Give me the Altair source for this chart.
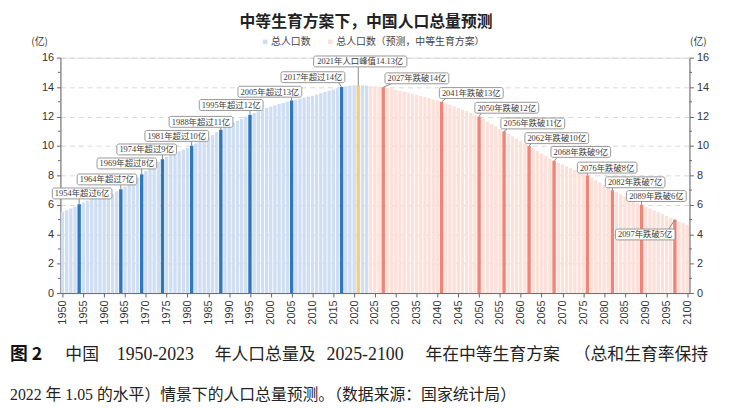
import altair as alt
import pandas as pd

# ---------------- data ----------------
hist_years = list(range(1950, 2024))
hist_values = [
    5.52, 5.63, 5.75, 5.88, 6.03, 6.15, 6.28, 6.47, 6.60, 6.72,
    6.62, 6.59, 6.73, 6.92, 7.05, 7.25, 7.45, 7.64, 7.85, 8.07,
    8.30, 8.52, 8.72, 8.92, 9.09, 9.24, 9.37, 9.50, 9.63, 9.75,
    9.87, 10.01, 10.17, 10.30, 10.44, 10.59, 10.75, 10.93, 11.10, 11.27,
    11.43, 11.58, 11.72, 11.85, 11.99, 12.11, 12.24, 12.36, 12.48, 12.58,
    12.67, 12.76, 12.85, 12.92, 13.00, 13.08, 13.14, 13.21, 13.28, 13.35,
    13.41, 13.49, 13.59, 13.67, 13.76, 13.83, 13.92, 14.00, 14.05, 14.10,
    14.12, 14.13, 14.12, 14.10,
]
proj_years = list(range(2024, 2101))
proj_values = [
    14.08, 14.06, 14.03, 13.99, 13.94, 13.88, 13.82, 13.76, 13.69, 13.62,
    13.55, 13.48, 13.41, 13.33, 13.25, 13.17, 13.08, 12.99, 12.89, 12.79,
    12.68, 12.57, 12.46, 12.35, 12.23, 12.11, 11.99, 11.82, 11.65, 11.49,
    11.33, 11.16, 10.99, 10.83, 10.66, 10.50, 10.33, 10.16, 9.99, 9.83,
    9.66, 9.49, 9.33, 9.16, 8.99, 8.87, 8.74, 8.62, 8.49, 8.37,
    8.24, 8.12, 7.99, 7.83, 7.66, 7.50, 7.33, 7.16, 6.99, 6.85,
    6.71, 6.56, 6.42, 6.28, 6.13, 5.99, 5.87, 5.74, 5.62, 5.49,
    5.37, 5.24, 5.12, 4.99, 4.87, 4.75, 4.64,
]
assert len(hist_years) == len(hist_values)
assert len(proj_years) == len(proj_values)

rise_years = [1954, 1964, 1969, 1974, 1981, 1988, 1995, 2005, 2017]
rise_levels = [6, 7, 8, 9, 10, 11, 12, 13, 14]
peak_year = 2021
peak_value = 14.13
fall_years = [2027, 2041, 2050, 2056, 2062, 2068, 2076, 2082, 2089, 2097]
fall_levels = [14, 13, 12, 11, 10, 9, 8, 7, 6, 5]

x_ticks = list(range(1950, 2101, 5))
y_ticks = list(range(0, 17, 2))
y_minor = list(range(1, 17, 2))

series_names = ["总人口数", "总人口数（预测，中等生育方案）"]
title_text = "中等生育方案下，中国人口总量预测"
unit_text = "(亿)"
caption_fig = "图 2"
caption_line1 = ["中国", "1950-2023", "年人口总量及", "2025-2100",
                 "年在中等生育方案", "（总和生育率保持"]
caption_line2 = "2022 年 1.05 的水平）情景下的人口总量预测。（数据来源：国家统计局）"

# ---------------- layout ----------------
W, H = 636, 238
PPY = W / 151.0
PPU = H / 16.0
SANS = "Noto Sans CJK SC"
LAB = "Liberation Serif, Noto Sans CJK SC"
COL_HIST, COL_PROJ = "#cfdef2", "#fbe1da"
COL_RISE, COL_PEAK, COL_FALL = "#2f78bd", "#f6cf7e", "#ee8577"

# callout offsets (px) of box centre from the bar top
offsets = {
    1954: (3, -11), 1964: (-14, -10), 1969: (-15, -11), 1974: (-16, -10),
    1981: (-15, -10), 1988: (-20, -8), 1995: (-19, -10), 2005: (-22, -9),
    2017: (-29, -10), 2021: (2, -24), 2027: (34, -9), 2041: (30, -9),
    2050: (28, -9), 2056: (29, -8), 2062: (28, -8), 2068: (27, -9),
    2076: (20, -8), 2082: (23, -8), 2089: (15, -9), 2097: (-30, 15),
}
# caption line-1 segment x positions (plot coords) and font sizes
cap1_x = [-51, 5, 57, 156, 269, 369, 519]
cap1_fs = [18, 17, 18, 17, 18, 17, 17]

all_years = hist_years + proj_years
all_values = hist_values + proj_values
val_of = dict(zip(all_years, all_values))

bars = pd.DataFrame({
    "year": all_years,
    "value": all_values,
    "series": [series_names[0]] * len(hist_years) + [series_names[1]] * len(proj_years),
})
bars["x0"] = bars["year"] - 0.4
bars["x1"] = bars["year"] + 0.4

hl_rows = []
for y in rise_years:
    hl_rows.append((y, val_of[y], "rise"))
hl_rows.append((peak_year, val_of[peak_year], "peak"))
for y in fall_years:
    hl_rows.append((y, val_of[y], "fall"))
hl = pd.DataFrame(hl_rows, columns=["year", "value", "kind"])
hl["x0"] = hl["year"] - 0.4
hl["x1"] = hl["year"] + 0.4

labels = []
for y, n in zip(rise_years, rise_levels):
    labels.append((y, f"{y}年超过{n}亿"))
labels.append((peak_year, f"{peak_year}年人口峰值{peak_value}亿"))
for y, n in zip(fall_years, fall_levels):
    labels.append((y, f"{y}年跌破{n}亿"))


def text_w(s, fs=8.5):
    return sum(fs * 0.5 if ord(c) < 128 else fs for c in s) + 5


ann = []
for y, lab in labels:
    v = val_of[y]
    dx, dy = offsets[y]
    cx = y + dx / PPY
    cy = v - dy / PPU
    w = text_w(lab)
    h = 11
    bx0, bx1 = cx - w / 2 / PPY, cx + w / 2 / PPY
    by0, by1 = cy - h / 2 / PPU, cy + h / 2 / PPU
    lx = min(max(y, bx0 + 1.5), bx1 - 1.5)
    ly = by0 if cy > v else by1
    ann.append(dict(year=y, value=v, label=lab, cx=cx, cy=cy,
                    bx0=bx0, bx1=bx1, by0=by0, by1=by1, lx=lx, ly=ly))
ann = pd.DataFrame(ann)

xs = alt.Scale(domain=[1949.5, 2100.5], nice=False, zero=False)
ys = alt.Scale(domain=[0, 16], nice=False, zero=True)

x_axis = alt.Axis(values=x_ticks, format="d", labelAngle=-90, labelFontSize=11,
                  labelColor="#333333", labelFont="Liberation Sans", tickColor="#666666",
                  tickSize=4, domainColor="#666666", grid=False, title=None,
                  labelPadding=3, labelOverlap=False, labelFlush=False)
y_left = alt.Axis(values=y_ticks, grid=True, gridDash=[5, 4], gridColor="#d9d9d9",
                  domainColor="#666666", tickColor="#666666", tickSize=4,
                  labelFontSize=11, labelColor="#333333", labelFont="Liberation Sans",
                  title=None, labelPadding=3)
y_right = alt.Axis(values=y_ticks, orient="right", grid=False,
                   domainColor="#666666", tickColor="#666666", tickSize=4,
                   labelFontSize=11, labelColor="#333333", labelFont="Liberation Sans",
                   title=None, labelPadding=3)

color_scale = alt.Scale(domain=series_names, range=[COL_HIST, COL_PROJ])

base_hist = alt.Chart(bars[bars["series"] == series_names[0]]).mark_rect().encode(
    x=alt.X("x0:Q", scale=xs, axis=x_axis),
    x2="x1:Q",
    y=alt.Y("value:Q", scale=ys, axis=y_left),
    y2=alt.datum(0),
    color=alt.Color("series:N", scale=color_scale, legend=None),
)
base_proj = alt.Chart(bars[bars["series"] == series_names[1]]).mark_rect().encode(
    x=alt.X("x0:Q", scale=xs, axis=x_axis),
    x2="x1:Q",
    y=alt.Y("value:Q", scale=ys, axis=y_right),
    y2=alt.datum(0),
    color=alt.Color("series:N", scale=color_scale, legend=None),
)

hl_layer = alt.Chart(hl).mark_rect().encode(
    x=alt.X("x0:Q", scale=xs, axis=x_axis),
    x2="x1:Q",
    y=alt.Y("value:Q", scale=ys, axis=None),
    y2=alt.datum(0),
    color=alt.Color("kind:N", scale=alt.Scale(domain=["rise", "peak", "fall"],
                                               range=[COL_RISE, COL_PEAK, COL_FALL]),
                    legend=None),
)

minor = pd.DataFrame({"v": y_minor})
minor_left = alt.Chart(minor).mark_rule(color="#666666", strokeWidth=1).encode(
    y=alt.Y("v:Q", scale=ys, axis=None), x=alt.value(-2.5), x2=alt.value(0))
minor_right = alt.Chart(minor).mark_rule(color="#666666", strokeWidth=1).encode(
    y=alt.Y("v:Q", scale=ys, axis=None), x=alt.value(W), x2=alt.value(W + 2.5))

leaders = alt.Chart(ann).mark_rule(color="#8a8a8a", strokeWidth=1).encode(
    x=alt.X("lx:Q", scale=xs, axis=x_axis), x2="year:Q",
    y=alt.Y("ly:Q", scale=ys, axis=None), y2="value:Q")
boxes = alt.Chart(ann).mark_rect(fill="white", stroke="#8c8c8c", strokeWidth=0.9,
                                 cornerRadius=2).encode(
    x=alt.X("bx0:Q", scale=xs, axis=x_axis), x2="bx1:Q",
    y=alt.Y("by0:Q", scale=ys, axis=None), y2="by1:Q")
box_text = alt.Chart(ann).mark_text(font=LAB, fontSize=8.5, color="#3a3a3a",
                                    align="center", baseline="middle").encode(
    x=alt.X("cx:Q", scale=xs, axis=x_axis),
    y=alt.Y("cy:Q", scale=ys, axis=None),
    text="label:N")


def fixed_text(txt, x, y, **kw):
    return alt.Chart(pd.DataFrame({"t": [txt]})).mark_text(**kw).encode(
        x=alt.value(x), y=alt.value(y), text="t:N")


def fixed_square(x, y, col):
    return alt.Chart(pd.DataFrame({"t": [0]})).mark_square(size=22, opacity=1).encode(
        x=alt.value(x), y=alt.value(y), color=alt.value(col))


title = fixed_text(title_text, 309, -36, font=SANS, fontSize=16, fontWeight="bold",
                   color="#222222", align="center", baseline="middle")
unit_l = fixed_text(unit_text, -21, -16, font=SANS, fontSize=10, color="#333333",
                    align="center", baseline="middle")
unit_r = fixed_text(unit_text, 645, -16, font=SANS, fontSize=10, color="#333333",
                    align="center", baseline="middle")

leg_layers = [
    fixed_square(207, -16, COL_HIST),
    fixed_text(series_names[0], 213, -16, font=SANS, fontSize=10, color="#444444",
               align="left", baseline="middle"),
    fixed_square(273, -16, COL_PROJ),
    fixed_text(series_names[1], 279, -16, font=SANS, fontSize=10, color="#444444",
               align="left", baseline="middle"),
]

cap_layers = [fixed_text(caption_fig, cap1_x[0], 301, font=SANS, fontSize=cap1_fs[0],
                         fontWeight="bold", color="#111111", align="left",
                         baseline="middle")]
for seg, sx, fs in zip(caption_line1, cap1_x[1:], cap1_fs[1:]):
    cap_layers.append(fixed_text(seg, sx, 301, font=LAB, fontSize=fs, color="#222222",
                                 align="left", baseline="middle"))
cap_layers.append(fixed_text(caption_line2, -51, 341, font=LAB, fontSize=16,
                             color="#222222", align="left", baseline="middle"))

chart = alt.layer(
    base_hist, base_proj, hl_layer, minor_left, minor_right,
    leaders, boxes, box_text,
    title, unit_l, unit_r, *leg_layers, *cap_layers,
).resolve_axis(y="independent").resolve_scale(color="independent").properties(
    width=W, height=H,
    autosize=alt.AutoSizeParams(type="none"),
    padding={"left": 53, "top": 48, "right": 43, "bottom": 114},
).configure_view(stroke=None).configure(background="white")

chart.save("out.html", embed_options={"renderer": "svg", "actions": False})
